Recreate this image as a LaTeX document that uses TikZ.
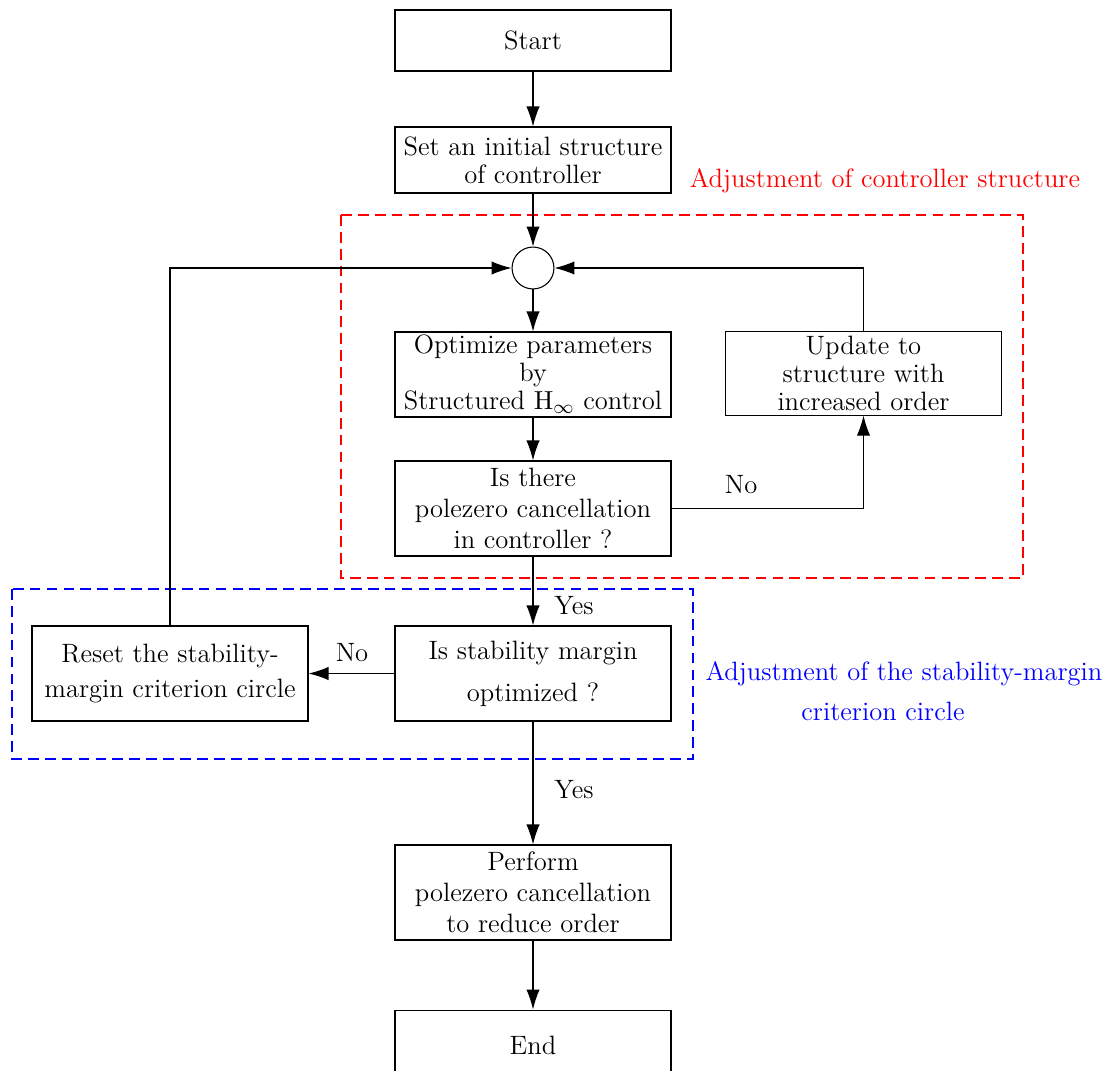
\documentclass[tikz,border=0pt]{standalone}
\usetikzlibrary{arrows.meta}
\begin{document}
\begin{tikzpicture}[x=0.42pt,y=-0.42pt,
  every node/.style={font=\fontsize{11.15pt}{11.8pt}\selectfont},
  box/.style={draw, line width=0.45pt, minimum width=115.9pt, inner sep=0pt, align=center},
  circ/.style={draw, line width=0.45pt, circle, minimum size=17.6pt, inner sep=0pt},
  arr/.style={line width=0.45pt, -{Latex[length=8.4pt,width=5.6pt]}},
  reddash/.style={draw=red, line width=0.55pt, dash pattern=on 4.5pt off 2.6pt},
  bluedash/.style={draw=blue, line width=0.55pt, dash pattern=on 4.5pt off 2.6pt},
  lbl/.style={inner sep=0pt}]
\useasboundingbox (0,0) rectangle (1120,1070);
\node[box, minimum height=25.6pt] (start) at (533,40.5) {Start};
\node[box, minimum height=27.7pt] (init) at (533,160) {Set an initial structure\\of controller};
\node[circ] (sum) at (533,268) {};
\node[box, minimum height=35.7pt] (opt) at (533,374.5) {Optimize parameters\\by\\Structured $\mathrm{H}_\infty$ control};
\node[box, minimum height=34.9pt] (upd) at (863.5,373.5) {Update to\\structure with\\increased order};
\node[box, minimum height=39.9pt] (pz) at (533,508.5) {Is there\\[1.3pt]polezero cancellation\\[1.3pt]in controller ?};
\node[box, minimum height=39.9pt] (stab) at (533,673.5) {Is stability margin\\[5.9pt]optimized ?};
\node[box, minimum height=39.9pt] (reset) at (170,673.5) {Reset the stability-\\[2.5pt]margin criterion circle};
\node[box, minimum height=39.9pt] (perf) at (533,892.5) {Perform\\[1.3pt]polezero cancellation\\[1.3pt]to reduce order};
\node[box, minimum height=29.8pt] (end) at (533,1045.5) {End};

\draw[reddash] (341,215) rectangle (1023,578);
\draw[bluedash] (12,589) rectangle (693,759);
\node[lbl, text=red] (lab1) at (885,181) {Adjustment of controller structure};
\node[lbl, text=blue] (lab2a) at (904,674) {Adjustment of the stability-margin};
\node[lbl, text=blue] (lab2b) at (883,711) {criterion circle};

\coordinate (c1) at (upd.north |- sum);
\coordinate (c2) at (upd.south |- pz.east);
\coordinate (c3) at (reset.north |- sum);

\draw[arr] (start) -- (init);
\draw[arr] (init) -- (sum);
\draw[arr] (sum) -- (opt);
\draw[arr] (opt) -- (pz);
\draw[arr] (pz.east) -- (c2) -- (upd.south);
\draw[arr] (upd.north) -- (c1) -- (sum.east);
\draw[arr] (pz) -- (stab);
\draw[arr] (stab) -- (reset);
\draw[arr] (reset.north) -- (c3) -- (sum.west);
\draw[arr] (stab) -- (perf);
\draw[arr] (perf) -- (end);

\node[lbl] (no1) at (741,485) {No};
\node[lbl] (yes1) at (574,606) {Yes};
\node[lbl] (no2) at (352,653) {No};
\node[lbl] (yes2) at (574,790) {Yes};
\end{tikzpicture}
\end{document}
